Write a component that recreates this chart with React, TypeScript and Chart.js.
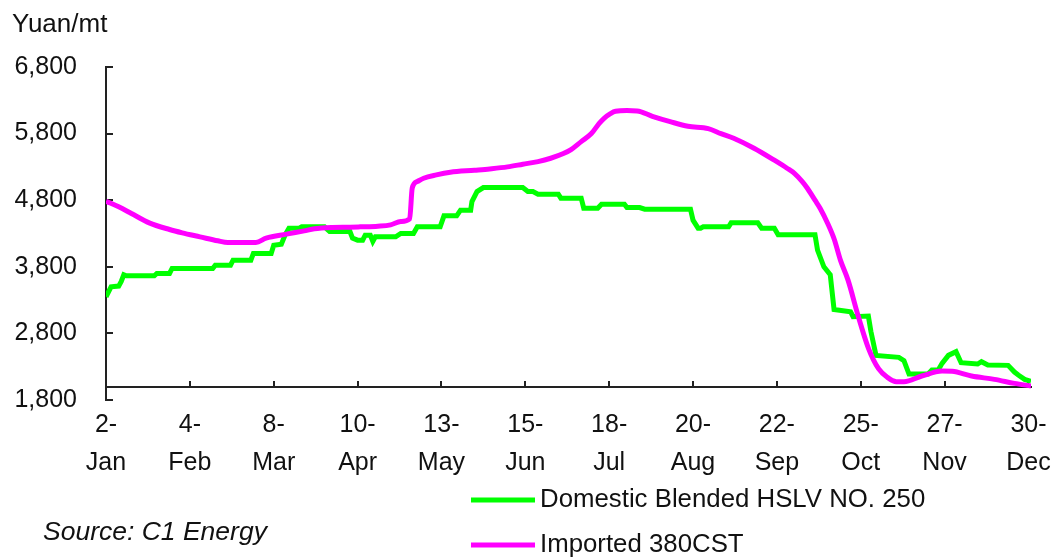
import React, { useEffect, useRef } from 'react';
import { Chart, registerables } from 'chart.js';

Chart.register(...registerables);

// ---- data (x = days since 2-Jan-2008) ----
const tickDays = [0, 33, 66, 99, 132, 165, 198, 231, 264, 297, 330, 363];
const tickLabels = [
  ['2-', 'Jan'], ['4-', 'Feb'], ['8-', 'Mar'], ['10-', 'Apr'], ['13-', 'May'], ['15-', 'Jun'],
  ['18-', 'Jul'], ['20-', 'Aug'], ['22-', 'Sep'], ['25-', 'Oct'], ['27-', 'Nov'], ['30-', 'Dec'],
];
const yMin = 1800;
const yMax = 6800;
const yStep = 1000;
const xAxisCross = 2000;
const xMax = 364;

const seriesNames = ['Domestic Blended HSLV NO. 250', 'Imported 380CST'];
const unitLabel = 'Yuan/mt';
const sourceLabel = 'Source: C1 Energy';

const domesticDays = [
  0, 2, 5, 6, 7, 8, 19, 20, 25, 26, 42, 43, 49, 50, 57, 58, 65, 66, 69, 70.5, 72, 76, 77, 86, 88, 96,
  97, 99, 101, 102, 104, 105, 106, 114, 116, 121, 122.5, 131.5, 133, 138, 139.5, 143.5, 144, 146, 148.5,
  164, 166, 168, 170, 178, 179, 187, 188, 193.5, 195, 204, 205, 210, 212, 230, 231, 233, 234, 235, 245,
  246, 256.5, 258, 263, 264.5, 279, 280, 282.5, 285, 286.5, 293, 294, 300, 301, 303, 312, 314, 316,
  323.5, 325, 327.5, 329, 331.5, 334.5, 336.5, 343, 344.5, 347, 355, 357.5, 359, 361.5, 364,
];
const domesticValues = [
  3350, 3500, 3510, 3580, 3680, 3665, 3665, 3700, 3700, 3775, 3775, 3825, 3825, 3900, 3900, 4000, 4000, 4125, 4140, 4280, 4380, 4380, 4400, 4400, 4330, 4330,
  4230, 4200, 4200, 4275, 4275, 4180, 4250, 4250, 4300, 4300, 4400, 4400, 4565, 4565, 4650, 4650, 4780, 4930, 4990,
  4990, 4930, 4930, 4890, 4890, 4830, 4830, 4680, 4680, 4740, 4740, 4690, 4690, 4665, 4665, 4500, 4380, 4380, 4400, 4400,
  4460, 4460, 4380, 4380, 4280, 4280, 4050, 3800, 3680, 3160, 3125, 3050, 3060, 2830, 2470, 2440, 2390, 2190,
  2190, 2250, 2250, 2350, 2470, 2525, 2360, 2340, 2375, 2325, 2320, 2220, 2175, 2110, 2080,
];

const importedDays = [
  0, 5, 10, 17, 25, 30, 37, 44, 48, 59, 63, 71, 78, 82, 89, 96, 100, 107, 112, 116, 119.5, 120.5, 122.5,
  125, 130, 135.5, 145, 151, 158, 164, 170, 175, 180, 183, 187, 191, 194, 196, 198.5, 200.5, 205, 209,
  215, 222, 229, 237, 242, 247, 255, 263, 268, 271, 274, 276, 279, 281, 284, 286.6, 289, 292, 296, 300,
  304, 307.5, 311, 314, 321, 329, 333, 340.6, 349.6, 357.5, 364,
];
const importedValues = [
  4785, 4700, 4600, 4460, 4360, 4310, 4250, 4190, 4165, 4165, 4230, 4290, 4340, 4370, 4390, 4395, 4400, 4410, 4430, 4480, 4520, 4980, 5080,
  5130, 5180, 5220, 5250, 5270, 5300, 5340, 5380, 5430, 5500, 5560, 5680, 5800, 5950, 6030, 6100, 6135, 6145, 6140,
  6060, 5980, 5910, 5875, 5800, 5730, 5580, 5400, 5280, 5200, 5080, 4980, 4800, 4680, 4450, 4210, 3900, 3600, 3060, 2580,
  2270, 2140, 2075, 2075, 2160, 2235, 2230, 2160, 2110, 2050, 2010,
];

// ---- styles ----
const FONT = '"Liberation Sans", Arial, sans-serif';
const TEXT = '#111111';
const AXIS = '#222222';
const GREEN = '#00ff00';
const MAGENTA = '#ff00ff';

const decorPlugin = {
  id: 'decor',
  beforeDatasetsDraw(chart: any) {
    const { ctx, chartArea, scales } = chart;
    const xs = scales.x;
    const ys = scales.y;
    ctx.save();
    ctx.strokeStyle = AXIS;
    ctx.lineWidth = 2;
    ctx.beginPath();
    ys.ticks.forEach((t: any) => {
      const py = Math.round(ys.getPixelForValue(t.value));
      ctx.moveTo(chartArea.left, py);
      ctx.lineTo(chartArea.left + 7, py);
    });
    const axisY = Math.round(ys.getPixelForValue(xAxisCross));
    xs.ticks.forEach((t: any) => {
      const px = Math.round(xs.getPixelForValue(t.value));
      ctx.moveTo(px, axisY);
      ctx.lineTo(px, axisY - 6);
    });
    ctx.stroke();
    ctx.restore();
  },
  afterDraw(chart: any) {
    const { ctx } = chart;
    ctx.save();
    ctx.fillStyle = TEXT;
    ctx.textBaseline = 'middle';
    ctx.textAlign = 'left';
    ctx.font = `26px ${FONT}`;
    ctx.fillText(unitLabel, 12, 25);
    // legend
    const rows = [
      { label: seriesNames[0], color: chart.data.datasets[1].borderColor, y: 500 },
      { label: seriesNames[1], color: chart.data.datasets[0].borderColor, y: 545 },
    ];
    ctx.font = `25.8px ${FONT}`;
    rows.forEach((r) => {
      ctx.strokeStyle = r.color;
      ctx.lineWidth = 5;
      ctx.beginPath();
      ctx.moveTo(471, r.y);
      ctx.lineTo(535, r.y);
      ctx.stroke();
      ctx.fillStyle = TEXT;
      ctx.fillText(r.label, 540, r.y);
    });
    ctx.font = `italic 26.5px ${FONT}`;
    ctx.fillText(sourceLabel, 43, 533);
    ctx.restore();
  },
};

export default function App() {
  const ref = useRef<HTMLCanvasElement | null>(null);
  useEffect(() => {
    if (!ref.current) return;
    const chart = new Chart(ref.current, {
      type: 'line',
      data: {
        datasets: [
          {
            label: seriesNames[1],
            data: importedDays.map((d, i) => ({ x: d, y: importedValues[i] })),
            borderColor: MAGENTA,
            backgroundColor: MAGENTA,
            borderWidth: 5,
            pointRadius: 0,
            cubicInterpolationMode: 'monotone',
            fill: false,
          },
          {
            label: seriesNames[0],
            data: domesticDays.map((d, i) => ({ x: d, y: domesticValues[i] })),
            borderColor: GREEN,
            backgroundColor: GREEN,
            borderWidth: 5,
            pointRadius: 0,
            tension: 0,
            fill: false,
          },
        ],
      },
      options: {
        responsive: false,
        animation: false,
        events: [],
        layout: { padding: { top: 67, right: 21, bottom: 157, left: 0 } },
        plugins: { legend: { display: false }, tooltip: { enabled: false }, title: { display: false } },
        scales: {
          x: {
            type: 'linear',
            min: 0,
            max: xMax,
            position: { y: xAxisCross } as any,
            afterBuildTicks: (s: any) => {
              s.ticks = tickDays.map((v) => ({ value: v }));
            },
            afterFit: (s: any) => {
              s.paddingLeft = 0;
              s.paddingRight = 0;
            },
            ticks: {
              autoSkip: false,
              maxRotation: 0,
              minRotation: 0,
              padding: 20,
              color: TEXT,
              font: { family: FONT, size: 25, lineHeight: 1.5 },
              callback: (_v: any, i: number) => tickLabels[i],
            },
            grid: { display: true, drawOnChartArea: false, drawTicks: false },
            border: { display: true, color: AXIS, width: 2 },
          },
          y: {
            type: 'linear',
            min: yMin,
            max: yMax,
            afterFit: (s: any) => {
              s.width = 106;
            },
            ticks: {
              stepSize: yStep,
              padding: 29,
              color: TEXT,
              font: { family: FONT, size: 25 },
              callback: (v: any) => Number(v).toLocaleString('en-US'),
            },
            grid: { display: true, drawOnChartArea: false, drawTicks: false },
            border: { display: true, color: AXIS, width: 2 },
          },
        },
      },
      plugins: [decorPlugin],
    });
    return () => chart.destroy();
  }, []);
  return (
    <div style={{ position: 'absolute', left: 0, top: 0, width: 1052, height: 557, background: '#fff' }}>
      <canvas ref={ref} width={1052} height={557} />
    </div>
  );
}
